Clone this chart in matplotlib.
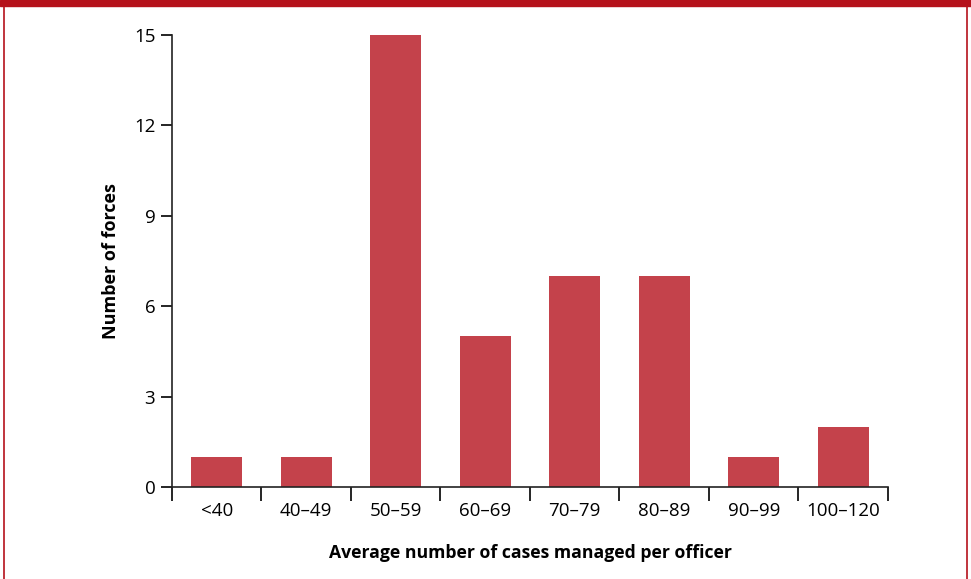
import numpy as np
from matplotlib import pyplot as plt
from matplotlib.lines import Line2D

# Dane wykresu.
categories = ['<40', '40–49', '50–59', '60–69', '70–79', '80–89', '90–99', '100–120']
forces = [1, 1, 15, 5, 7, 7, 1, 2]
y_ticks = [0, 3, 6, 9, 12, 15]

plt.rcParams['font.family'] = ['Open Sans', 'DejaVu Sans']

fig = plt.figure(figsize=(9.71, 5.79), dpi=100)
ax = fig.add_axes([0.1771, 0.1589, 0.9145 - 0.1771, 0.9396 - 0.1589])

x = np.arange(len(categories))
ax.bar(x, forces, width=0.57, color='#c4424b')

ax.set_xlim(-0.5, len(categories) - 0.5)
ax.set_ylim(0, 15)
ax.set_yticks(y_ticks)
ax.set_xticks(x)
ax.set_xticklabels(categories)
ax.set_xticks(np.arange(len(categories) + 1) - 0.5, minor=True)
ax.tick_params(axis='x', which='major', length=0, pad=11, labelsize=13.5)
ax.tick_params(axis='x', which='minor', length=10, width=1.2, direction='out')
ax.tick_params(axis='y', length=8, width=1.2, pad=4, labelsize=13.5)

for side in ['top', 'right']:
    ax.spines[side].set_visible(False)
for side in ['left', 'bottom']:
    ax.spines[side].set_linewidth(1.2)
    ax.spines[side].set_color('#222222')

ax.set_xlabel('Average number of cases managed per officer', fontsize=12.7,
              fontweight='bold', labelpad=17)
ax.set_ylabel('Number of forces', fontsize=13, fontweight='bold', labelpad=10)

# Czerwona ramka.
red = '#b5121b'
fig.add_artist(plt.Rectangle((0, 1 - 6 / 579), 1, 6 / 579, color=red,
                             transform=fig.transFigure))
fig.add_artist(Line2D([4 / 971, 4 / 971], [0, 1], color=red, lw=1.2,
                      transform=fig.transFigure))
fig.add_artist(Line2D([967 / 971, 967 / 971], [0, 1], color=red, lw=1.2,
                      transform=fig.transFigure))

fig.savefig('out.png', dpi=100)
